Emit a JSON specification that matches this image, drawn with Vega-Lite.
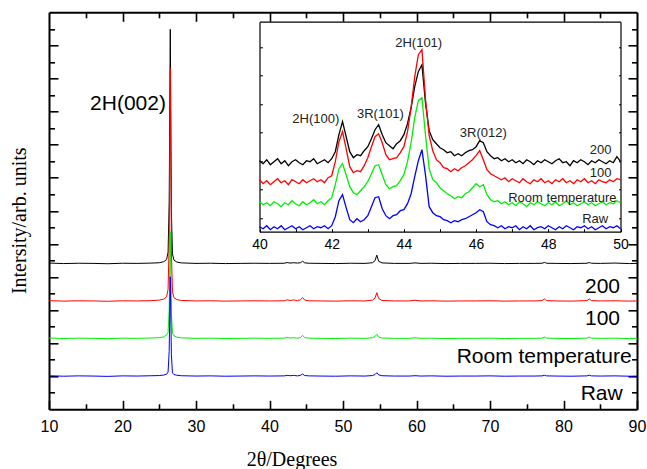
{
"$schema": "https://vega.github.io/schema/vega-lite/v6.json",
"width": 588, "height": 397,
"autosize": {"type": "none"},
"padding": {"left": 49, "top": 12.3, "right": 10, "bottom": 59.7},
"background": "white",
"config": {"view": {"stroke": null}, "axis": {"grid": false, "domainColor": "black", "tickColor": "black", "labelColor": "black", "labelFont": "Liberation Sans", "titleColor": "black", "titleFontWeight": "normal", "labelFlush": false, "labelOverlap": false}},
"datasets": {
"main": [
{"s":"200","x":10,"y":6.84},{"s":"200","x":12,"y":6.81},{"s":"200","x":14,"y":6.83},{"s":"200","x":16,"y":6.82},{"s":"200","x":18,"y":6.8},{"s":"200","x":20,"y":6.83},{"s":"200","x":22,"y":6.82},{"s":"200","x":24,"y":6.84},{"s":"200","x":25,"y":6.86},{"s":"200","x":25.6,"y":6.92},{"s":"200","x":26,"y":7.05},{"s":"200","x":26.2,"y":7.5},{"s":"200","x":26.35,"y":10.5},{"s":"200","x":26.5,"y":20.97},{"s":"200","x":26.65,"y":10.0},{"s":"200","x":26.8,"y":7.4},{"s":"200","x":27,"y":7.02},{"s":"200","x":27.4,"y":6.9},{"s":"200","x":28,"y":6.85},{"s":"200","x":30,"y":6.82},{"s":"200","x":32,"y":6.83},{"s":"200","x":34,"y":6.81},{"s":"200","x":36,"y":6.82},{"s":"200","x":38,"y":6.83},{"s":"200","x":40,"y":6.82},{"s":"200","x":42,"y":6.83},{"s":"200","x":42.4,"y":6.87},{"s":"200","x":42.8,"y":6.84},{"s":"200","x":43.3,"y":6.86},{"s":"200","x":43.8,"y":6.84},{"s":"200","x":44.2,"y":6.86},{"s":"200","x":44.5,"y":6.95},{"s":"200","x":44.8,"y":6.85},{"s":"200","x":45.4,"y":6.83},{"s":"200","x":47,"y":6.82},{"s":"200","x":49,"y":6.81},{"s":"200","x":51,"y":6.83},{"s":"200","x":53,"y":6.82},{"s":"200","x":54,"y":6.86},{"s":"200","x":54.35,"y":6.98},{"s":"200","x":54.6,"y":7.32},{"s":"200","x":54.85,"y":6.95},{"s":"200","x":55.3,"y":6.85},{"s":"200","x":57,"y":6.82},{"s":"200","x":59,"y":6.82},{"s":"200","x":59.8,"y":6.85},{"s":"200","x":60.6,"y":6.82},{"s":"200","x":62,"y":6.83},{"s":"200","x":64,"y":6.81},{"s":"200","x":66,"y":6.82},{"s":"200","x":68,"y":6.82},{"s":"200","x":70,"y":6.83},{"s":"200","x":72,"y":6.81},{"s":"200","x":74,"y":6.82},{"s":"200","x":76,"y":6.82},{"s":"200","x":77.1,"y":6.83},{"s":"200","x":77.4,"y":6.88},{"s":"200","x":77.7,"y":6.83},{"s":"200","x":79,"y":6.82},{"s":"200","x":81,"y":6.81},{"s":"200","x":83.2,"y":6.83},{"s":"200","x":83.5,"y":6.87},{"s":"200","x":83.8,"y":6.83},{"s":"200","x":85,"y":6.82},{"s":"200","x":87,"y":6.84},{"s":"200","x":89,"y":6.81},{"s":"200","x":90,"y":6.82},
{"s":"100","x":10,"y":4.57},{"s":"100","x":12,"y":4.54},{"s":"100","x":14,"y":4.56},{"s":"100","x":16,"y":4.55},{"s":"100","x":18,"y":4.53},{"s":"100","x":20,"y":4.56},{"s":"100","x":22,"y":4.55},{"s":"100","x":24,"y":4.57},{"s":"100","x":25,"y":4.6},{"s":"100","x":25.6,"y":4.66},{"s":"100","x":26,"y":4.8},{"s":"100","x":26.2,"y":5.25},{"s":"100","x":26.35,"y":8.0},{"s":"100","x":26.5,"y":18.61},{"s":"100","x":26.65,"y":7.6},{"s":"100","x":26.8,"y":5.1},{"s":"100","x":27,"y":4.75},{"s":"100","x":27.4,"y":4.63},{"s":"100","x":28,"y":4.58},{"s":"100","x":30,"y":4.55},{"s":"100","x":32,"y":4.56},{"s":"100","x":34,"y":4.54},{"s":"100","x":36,"y":4.55},{"s":"100","x":38,"y":4.56},{"s":"100","x":40,"y":4.55},{"s":"100","x":42,"y":4.56},{"s":"100","x":42.4,"y":4.62},{"s":"100","x":42.8,"y":4.58},{"s":"100","x":43.3,"y":4.61},{"s":"100","x":43.8,"y":4.57},{"s":"100","x":44.2,"y":4.62},{"s":"100","x":44.5,"y":4.75},{"s":"100","x":44.8,"y":4.6},{"s":"100","x":45.4,"y":4.56},{"s":"100","x":47,"y":4.55},{"s":"100","x":49,"y":4.54},{"s":"100","x":51,"y":4.56},{"s":"100","x":53,"y":4.55},{"s":"100","x":54,"y":4.6},{"s":"100","x":54.35,"y":4.72},{"s":"100","x":54.6,"y":5.05},{"s":"100","x":54.85,"y":4.7},{"s":"100","x":55.3,"y":4.58},{"s":"100","x":57,"y":4.55},{"s":"100","x":59,"y":4.55},{"s":"100","x":59.8,"y":4.59},{"s":"100","x":60.6,"y":4.55},{"s":"100","x":62,"y":4.56},{"s":"100","x":64,"y":4.54},{"s":"100","x":66,"y":4.55},{"s":"100","x":68,"y":4.55},{"s":"100","x":70,"y":4.56},{"s":"100","x":72,"y":4.54},{"s":"100","x":74,"y":4.55},{"s":"100","x":76,"y":4.55},{"s":"100","x":77.1,"y":4.57},{"s":"100","x":77.4,"y":4.67},{"s":"100","x":77.7,"y":4.57},{"s":"100","x":79,"y":4.55},{"s":"100","x":81,"y":4.54},{"s":"100","x":83.2,"y":4.57},{"s":"100","x":83.5,"y":4.67},{"s":"100","x":83.8,"y":4.57},{"s":"100","x":85,"y":4.55},{"s":"100","x":87,"y":4.56},{"s":"100","x":89,"y":4.54},{"s":"100","x":90,"y":4.55},
{"s":"RT","x":10,"y":2.31},{"s":"RT","x":12,"y":2.28},{"s":"RT","x":14,"y":2.3},{"s":"RT","x":16,"y":2.29},{"s":"RT","x":18,"y":2.27},{"s":"RT","x":20,"y":2.3},{"s":"RT","x":22,"y":2.29},{"s":"RT","x":24,"y":2.31},{"s":"RT","x":25,"y":2.33},{"s":"RT","x":25.6,"y":2.38},{"s":"RT","x":26,"y":2.5},{"s":"RT","x":26.2,"y":2.65},{"s":"RT","x":26.35,"y":4.0},{"s":"RT","x":26.5,"y":8.74},{"s":"RT","x":26.65,"y":3.8},{"s":"RT","x":26.8,"y":2.6},{"s":"RT","x":27,"y":2.45},{"s":"RT","x":27.4,"y":2.36},{"s":"RT","x":28,"y":2.32},{"s":"RT","x":30,"y":2.29},{"s":"RT","x":32,"y":2.3},{"s":"RT","x":34,"y":2.28},{"s":"RT","x":36,"y":2.29},{"s":"RT","x":38,"y":2.3},{"s":"RT","x":40,"y":2.29},{"s":"RT","x":42,"y":2.3},{"s":"RT","x":42.4,"y":2.34},{"s":"RT","x":42.8,"y":2.31},{"s":"RT","x":43.3,"y":2.33},{"s":"RT","x":43.8,"y":2.3},{"s":"RT","x":44.2,"y":2.34},{"s":"RT","x":44.5,"y":2.47},{"s":"RT","x":44.8,"y":2.33},{"s":"RT","x":45.4,"y":2.3},{"s":"RT","x":47,"y":2.29},{"s":"RT","x":49,"y":2.28},{"s":"RT","x":51,"y":2.3},{"s":"RT","x":53,"y":2.29},{"s":"RT","x":54,"y":2.32},{"s":"RT","x":54.35,"y":2.4},{"s":"RT","x":54.6,"y":2.53},{"s":"RT","x":54.85,"y":2.38},{"s":"RT","x":55.3,"y":2.31},{"s":"RT","x":57,"y":2.29},{"s":"RT","x":59,"y":2.29},{"s":"RT","x":59.8,"y":2.32},{"s":"RT","x":60.6,"y":2.29},{"s":"RT","x":62,"y":2.3},{"s":"RT","x":64,"y":2.28},{"s":"RT","x":66,"y":2.29},{"s":"RT","x":68,"y":2.29},{"s":"RT","x":70,"y":2.3},{"s":"RT","x":72,"y":2.28},{"s":"RT","x":74,"y":2.29},{"s":"RT","x":76,"y":2.29},{"s":"RT","x":77.1,"y":2.3},{"s":"RT","x":77.4,"y":2.37},{"s":"RT","x":77.7,"y":2.3},{"s":"RT","x":79,"y":2.29},{"s":"RT","x":81,"y":2.28},{"s":"RT","x":83.2,"y":2.3},{"s":"RT","x":83.5,"y":2.37},{"s":"RT","x":83.8,"y":2.3},{"s":"RT","x":85,"y":2.29},{"s":"RT","x":87,"y":2.3},{"s":"RT","x":89,"y":2.28},{"s":"RT","x":90,"y":2.29},
{"s":"Raw","x":10,"y":0.03},{"s":"Raw","x":12,"y":0.0},{"s":"Raw","x":14,"y":0.02},{"s":"Raw","x":16,"y":0.01},{"s":"Raw","x":18,"y":-0.01},{"s":"Raw","x":20,"y":0.02},{"s":"Raw","x":22,"y":0.01},{"s":"Raw","x":24,"y":0.03},{"s":"Raw","x":25,"y":0.04},{"s":"Raw","x":25.6,"y":0.07},{"s":"Raw","x":26,"y":0.12},{"s":"Raw","x":26.2,"y":0.25},{"s":"Raw","x":26.35,"y":1.5},{"s":"Raw","x":26.5,"y":6.01},{"s":"Raw","x":26.65,"y":1.3},{"s":"Raw","x":26.8,"y":0.2},{"s":"Raw","x":27,"y":0.1},{"s":"Raw","x":27.4,"y":0.06},{"s":"Raw","x":28,"y":0.03},{"s":"Raw","x":30,"y":0.01},{"s":"Raw","x":32,"y":0.02},{"s":"Raw","x":34,"y":0.0},{"s":"Raw","x":36,"y":0.01},{"s":"Raw","x":38,"y":0.02},{"s":"Raw","x":40,"y":0.01},{"s":"Raw","x":42,"y":0.02},{"s":"Raw","x":42.4,"y":0.05},{"s":"Raw","x":42.8,"y":0.03},{"s":"Raw","x":43.3,"y":0.05},{"s":"Raw","x":43.8,"y":0.02},{"s":"Raw","x":44.2,"y":0.05},{"s":"Raw","x":44.5,"y":0.13},{"s":"Raw","x":44.8,"y":0.04},{"s":"Raw","x":45.4,"y":0.02},{"s":"Raw","x":47,"y":0.01},{"s":"Raw","x":49,"y":0.0},{"s":"Raw","x":51,"y":0.02},{"s":"Raw","x":53,"y":0.01},{"s":"Raw","x":54,"y":0.04},{"s":"Raw","x":54.35,"y":0.1},{"s":"Raw","x":54.6,"y":0.21},{"s":"Raw","x":54.85,"y":0.08},{"s":"Raw","x":55.3,"y":0.03},{"s":"Raw","x":57,"y":0.01},{"s":"Raw","x":59,"y":0.01},{"s":"Raw","x":59.8,"y":0.03},{"s":"Raw","x":60.6,"y":0.01},{"s":"Raw","x":62,"y":0.02},{"s":"Raw","x":64,"y":0.0},{"s":"Raw","x":66,"y":0.01},{"s":"Raw","x":68,"y":0.01},{"s":"Raw","x":70,"y":0.02},{"s":"Raw","x":72,"y":0.0},{"s":"Raw","x":74,"y":0.01},{"s":"Raw","x":76,"y":0.01},{"s":"Raw","x":77.1,"y":0.02},{"s":"Raw","x":77.4,"y":0.06},{"s":"Raw","x":77.7,"y":0.02},{"s":"Raw","x":79,"y":0.01},{"s":"Raw","x":81,"y":0.0},{"s":"Raw","x":83.2,"y":0.02},{"s":"Raw","x":83.5,"y":0.06},{"s":"Raw","x":83.8,"y":0.02},{"s":"Raw","x":85,"y":0.01},{"s":"Raw","x":87,"y":0.02},{"s":"Raw","x":89,"y":0.0},{"s":"Raw","x":90,"y":0.01}
],
"inset": [
{"s":"200","x":40.0,"y":71},{"s":"200","x":40.1,"y":68},{"s":"200","x":40.2,"y":72},{"s":"200","x":40.3,"y":67},{"s":"200","x":40.4,"y":70},{"s":"200","x":40.5,"y":73},{"s":"200","x":40.6,"y":68},{"s":"200","x":40.7,"y":71},{"s":"200","x":40.8,"y":66},{"s":"200","x":40.9,"y":70},{"s":"200","x":41.0,"y":72},{"s":"200","x":41.1,"y":69},{"s":"200","x":41.2,"y":67},{"s":"200","x":41.3,"y":71},{"s":"200","x":41.4,"y":70},{"s":"200","x":41.5,"y":73},{"s":"200","x":41.6,"y":68},{"s":"200","x":41.7,"y":70},{"s":"200","x":41.8,"y":72},{"s":"200","x":41.9,"y":69},{"s":"200","x":42.0,"y":73},{"s":"200","x":42.1,"y":80},{"s":"200","x":42.2,"y":97},{"s":"200","x":42.3,"y":110},{"s":"200","x":42.4,"y":95},{"s":"200","x":42.5,"y":80},{"s":"200","x":42.6,"y":74},{"s":"200","x":42.7,"y":77},{"s":"200","x":42.8,"y":76},{"s":"200","x":42.9,"y":81},{"s":"200","x":43.0,"y":85},{"s":"200","x":43.1,"y":93},{"s":"200","x":43.2,"y":102},{"s":"200","x":43.3,"y":107},{"s":"200","x":43.4,"y":97},{"s":"200","x":43.5,"y":89},{"s":"200","x":43.6,"y":86},{"s":"200","x":43.7,"y":83},{"s":"200","x":43.8,"y":88},{"s":"200","x":43.9,"y":91},{"s":"200","x":44.0,"y":97},{"s":"200","x":44.1,"y":108},{"s":"200","x":44.2,"y":124},{"s":"200","x":44.3,"y":145},{"s":"200","x":44.4,"y":160},{"s":"200","x":44.5,"y":167},{"s":"200","x":44.6,"y":128},{"s":"200","x":44.7,"y":101},{"s":"200","x":44.8,"y":92},{"s":"200","x":44.9,"y":88},{"s":"200","x":45.0,"y":84},{"s":"200","x":45.1,"y":82},{"s":"200","x":45.2,"y":79},{"s":"200","x":45.3,"y":80},{"s":"200","x":45.4,"y":76},{"s":"200","x":45.5,"y":78},{"s":"200","x":45.6,"y":76},{"s":"200","x":45.7,"y":79},{"s":"200","x":45.8,"y":81},{"s":"200","x":45.9,"y":82},{"s":"200","x":46.0,"y":85},{"s":"200","x":46.1,"y":91},{"s":"200","x":46.2,"y":89},{"s":"200","x":46.3,"y":80},{"s":"200","x":46.4,"y":76},{"s":"200","x":46.5,"y":73},{"s":"200","x":46.6,"y":74},{"s":"200","x":46.7,"y":71},{"s":"200","x":46.8,"y":73},{"s":"200","x":46.9,"y":70},{"s":"200","x":47.0,"y":72},{"s":"200","x":47.1,"y":69},{"s":"200","x":47.2,"y":71},{"s":"200","x":47.3,"y":68},{"s":"200","x":47.4,"y":72},{"s":"200","x":47.5,"y":70},{"s":"200","x":47.6,"y":67},{"s":"200","x":47.7,"y":71},{"s":"200","x":47.8,"y":69},{"s":"200","x":47.9,"y":72},{"s":"200","x":48.0,"y":70},{"s":"200","x":48.1,"y":68},{"s":"200","x":48.2,"y":71},{"s":"200","x":48.3,"y":73},{"s":"200","x":48.4,"y":69},{"s":"200","x":48.5,"y":70},{"s":"200","x":48.6,"y":66},{"s":"200","x":48.7,"y":71},{"s":"200","x":48.8,"y":69},{"s":"200","x":48.9,"y":72},{"s":"200","x":49.0,"y":70},{"s":"200","x":49.1,"y":67},{"s":"200","x":49.2,"y":71},{"s":"200","x":49.3,"y":69},{"s":"200","x":49.4,"y":72},{"s":"200","x":49.5,"y":70},{"s":"200","x":49.6,"y":68},{"s":"200","x":49.7,"y":71},{"s":"200","x":49.8,"y":69},{"s":"200","x":49.9,"y":75},{"s":"200","x":50.0,"y":70},
{"s":"100","x":40.0,"y":52},{"s":"100","x":40.1,"y":48},{"s":"100","x":40.2,"y":51},{"s":"100","x":40.3,"y":47},{"s":"100","x":40.4,"y":50},{"s":"100","x":40.5,"y":53},{"s":"100","x":40.6,"y":49},{"s":"100","x":40.7,"y":51},{"s":"100","x":40.8,"y":47},{"s":"100","x":40.9,"y":52},{"s":"100","x":41.0,"y":50},{"s":"100","x":41.1,"y":48},{"s":"100","x":41.2,"y":52},{"s":"100","x":41.3,"y":49},{"s":"100","x":41.4,"y":51},{"s":"100","x":41.5,"y":53},{"s":"100","x":41.6,"y":50},{"s":"100","x":41.7,"y":52},{"s":"100","x":41.8,"y":49},{"s":"100","x":41.9,"y":54},{"s":"100","x":42.0,"y":56},{"s":"100","x":42.1,"y":70},{"s":"100","x":42.2,"y":90},{"s":"100","x":42.3,"y":100},{"s":"100","x":42.4,"y":83},{"s":"100","x":42.5,"y":65},{"s":"100","x":42.6,"y":59},{"s":"100","x":42.7,"y":61},{"s":"100","x":42.8,"y":60},{"s":"100","x":42.9,"y":66},{"s":"100","x":43.0,"y":74},{"s":"100","x":43.1,"y":85},{"s":"100","x":43.2,"y":95},{"s":"100","x":43.3,"y":98},{"s":"100","x":43.4,"y":89},{"s":"100","x":43.5,"y":77},{"s":"100","x":43.6,"y":72},{"s":"100","x":43.7,"y":73},{"s":"100","x":43.8,"y":74},{"s":"100","x":43.9,"y":79},{"s":"100","x":44.0,"y":85},{"s":"100","x":44.1,"y":100},{"s":"100","x":44.2,"y":124},{"s":"100","x":44.3,"y":155},{"s":"100","x":44.4,"y":177},{"s":"100","x":44.5,"y":182},{"s":"100","x":44.6,"y":132},{"s":"100","x":44.7,"y":96},{"s":"100","x":44.8,"y":81},{"s":"100","x":44.9,"y":72},{"s":"100","x":45.0,"y":69},{"s":"100","x":45.1,"y":64},{"s":"100","x":45.2,"y":63},{"s":"100","x":45.3,"y":60},{"s":"100","x":45.4,"y":63},{"s":"100","x":45.5,"y":61},{"s":"100","x":45.6,"y":64},{"s":"100","x":45.7,"y":66},{"s":"100","x":45.8,"y":69},{"s":"100","x":45.9,"y":72},{"s":"100","x":46.0,"y":76},{"s":"100","x":46.1,"y":81},{"s":"100","x":46.2,"y":72},{"s":"100","x":46.3,"y":62},{"s":"100","x":46.4,"y":58},{"s":"100","x":46.5,"y":56},{"s":"100","x":46.6,"y":54},{"s":"100","x":46.7,"y":52},{"s":"100","x":46.8,"y":54},{"s":"100","x":46.9,"y":50},{"s":"100","x":47.0,"y":53},{"s":"100","x":47.1,"y":51},{"s":"100","x":47.2,"y":49},{"s":"100","x":47.3,"y":53},{"s":"100","x":47.4,"y":50},{"s":"100","x":47.5,"y":48},{"s":"100","x":47.6,"y":52},{"s":"100","x":47.7,"y":50},{"s":"100","x":47.8,"y":53},{"s":"100","x":47.9,"y":49},{"s":"100","x":48.0,"y":51},{"s":"100","x":48.1,"y":48},{"s":"100","x":48.2,"y":52},{"s":"100","x":48.3,"y":50},{"s":"100","x":48.4,"y":53},{"s":"100","x":48.5,"y":49},{"s":"100","x":48.6,"y":51},{"s":"100","x":48.7,"y":48},{"s":"100","x":48.8,"y":52},{"s":"100","x":48.9,"y":50},{"s":"100","x":49.0,"y":53},{"s":"100","x":49.1,"y":49},{"s":"100","x":49.2,"y":51},{"s":"100","x":49.3,"y":48},{"s":"100","x":49.4,"y":52},{"s":"100","x":49.5,"y":50},{"s":"100","x":49.6,"y":49},{"s":"100","x":49.7,"y":52},{"s":"100","x":49.8,"y":50},{"s":"100","x":49.9,"y":53},{"s":"100","x":50.0,"y":52},
{"s":"RT","x":40.0,"y":30},{"s":"RT","x":40.1,"y":27},{"s":"RT","x":40.2,"y":29},{"s":"RT","x":40.3,"y":26},{"s":"RT","x":40.4,"y":30},{"s":"RT","x":40.5,"y":28},{"s":"RT","x":40.6,"y":25},{"s":"RT","x":40.7,"y":29},{"s":"RT","x":40.8,"y":27},{"s":"RT","x":40.9,"y":31},{"s":"RT","x":41.0,"y":28},{"s":"RT","x":41.1,"y":26},{"s":"RT","x":41.2,"y":30},{"s":"RT","x":41.3,"y":27},{"s":"RT","x":41.4,"y":29},{"s":"RT","x":41.5,"y":32},{"s":"RT","x":41.6,"y":28},{"s":"RT","x":41.7,"y":30},{"s":"RT","x":41.8,"y":27},{"s":"RT","x":41.9,"y":31},{"s":"RT","x":42.0,"y":34},{"s":"RT","x":42.1,"y":47},{"s":"RT","x":42.2,"y":63},{"s":"RT","x":42.3,"y":68},{"s":"RT","x":42.4,"y":57},{"s":"RT","x":42.5,"y":45},{"s":"RT","x":42.6,"y":39},{"s":"RT","x":42.7,"y":37},{"s":"RT","x":42.8,"y":41},{"s":"RT","x":42.9,"y":45},{"s":"RT","x":43.0,"y":50},{"s":"RT","x":43.1,"y":58},{"s":"RT","x":43.2,"y":66},{"s":"RT","x":43.3,"y":67},{"s":"RT","x":43.4,"y":57},{"s":"RT","x":43.5,"y":47},{"s":"RT","x":43.6,"y":43},{"s":"RT","x":43.7,"y":45},{"s":"RT","x":43.8,"y":46},{"s":"RT","x":43.9,"y":51},{"s":"RT","x":44.0,"y":57},{"s":"RT","x":44.1,"y":70},{"s":"RT","x":44.2,"y":89},{"s":"RT","x":44.3,"y":114},{"s":"RT","x":44.4,"y":131},{"s":"RT","x":44.5,"y":134},{"s":"RT","x":44.6,"y":96},{"s":"RT","x":44.7,"y":63},{"s":"RT","x":44.8,"y":52},{"s":"RT","x":44.9,"y":49},{"s":"RT","x":45.0,"y":44},{"s":"RT","x":45.1,"y":41},{"s":"RT","x":45.2,"y":38},{"s":"RT","x":45.3,"y":36},{"s":"RT","x":45.4,"y":33},{"s":"RT","x":45.5,"y":35},{"s":"RT","x":45.6,"y":34},{"s":"RT","x":45.7,"y":38},{"s":"RT","x":45.8,"y":40},{"s":"RT","x":45.9,"y":44},{"s":"RT","x":46.0,"y":48},{"s":"RT","x":46.1,"y":45},{"s":"RT","x":46.2,"y":47},{"s":"RT","x":46.3,"y":37},{"s":"RT","x":46.4,"y":32},{"s":"RT","x":46.5,"y":30},{"s":"RT","x":46.6,"y":31},{"s":"RT","x":46.7,"y":28},{"s":"RT","x":46.8,"y":30},{"s":"RT","x":46.9,"y":27},{"s":"RT","x":47.0,"y":29},{"s":"RT","x":47.1,"y":26},{"s":"RT","x":47.2,"y":30},{"s":"RT","x":47.3,"y":28},{"s":"RT","x":47.4,"y":25},{"s":"RT","x":47.5,"y":29},{"s":"RT","x":47.6,"y":27},{"s":"RT","x":47.7,"y":30},{"s":"RT","x":47.8,"y":28},{"s":"RT","x":47.9,"y":26},{"s":"RT","x":48.0,"y":29},{"s":"RT","x":48.1,"y":27},{"s":"RT","x":48.2,"y":30},{"s":"RT","x":48.3,"y":26},{"s":"RT","x":48.4,"y":28},{"s":"RT","x":48.5,"y":31},{"s":"RT","x":48.6,"y":27},{"s":"RT","x":48.7,"y":29},{"s":"RT","x":48.8,"y":26},{"s":"RT","x":48.9,"y":28},{"s":"RT","x":49.0,"y":30},{"s":"RT","x":49.1,"y":27},{"s":"RT","x":49.2,"y":29},{"s":"RT","x":49.3,"y":26},{"s":"RT","x":49.4,"y":28},{"s":"RT","x":49.5,"y":30},{"s":"RT","x":49.6,"y":27},{"s":"RT","x":49.7,"y":29},{"s":"RT","x":49.8,"y":28},{"s":"RT","x":49.9,"y":31},{"s":"RT","x":50.0,"y":29},
{"s":"Raw","x":40.0,"y":5},{"s":"Raw","x":40.1,"y":3},{"s":"Raw","x":40.2,"y":6},{"s":"Raw","x":40.3,"y":2},{"s":"Raw","x":40.4,"y":5},{"s":"Raw","x":40.5,"y":3},{"s":"Raw","x":40.6,"y":6},{"s":"Raw","x":40.7,"y":2},{"s":"Raw","x":40.8,"y":4},{"s":"Raw","x":40.9,"y":6},{"s":"Raw","x":41.0,"y":3},{"s":"Raw","x":41.1,"y":5},{"s":"Raw","x":41.2,"y":2},{"s":"Raw","x":41.3,"y":4},{"s":"Raw","x":41.4,"y":6},{"s":"Raw","x":41.5,"y":3},{"s":"Raw","x":41.6,"y":5},{"s":"Raw","x":41.7,"y":4},{"s":"Raw","x":41.8,"y":6},{"s":"Raw","x":41.9,"y":3},{"s":"Raw","x":42.0,"y":6},{"s":"Raw","x":42.1,"y":15},{"s":"Raw","x":42.2,"y":31},{"s":"Raw","x":42.3,"y":37},{"s":"Raw","x":42.4,"y":24},{"s":"Raw","x":42.5,"y":12},{"s":"Raw","x":42.6,"y":9},{"s":"Raw","x":42.7,"y":13},{"s":"Raw","x":42.8,"y":10},{"s":"Raw","x":42.9,"y":12},{"s":"Raw","x":43.0,"y":16},{"s":"Raw","x":43.1,"y":25},{"s":"Raw","x":43.2,"y":34},{"s":"Raw","x":43.3,"y":35},{"s":"Raw","x":43.4,"y":23},{"s":"Raw","x":43.5,"y":16},{"s":"Raw","x":43.6,"y":13},{"s":"Raw","x":43.7,"y":16},{"s":"Raw","x":43.8,"y":17},{"s":"Raw","x":43.9,"y":21},{"s":"Raw","x":44.0,"y":22},{"s":"Raw","x":44.1,"y":28},{"s":"Raw","x":44.2,"y":38},{"s":"Raw","x":44.3,"y":55},{"s":"Raw","x":44.4,"y":71},{"s":"Raw","x":44.5,"y":82},{"s":"Raw","x":44.6,"y":56},{"s":"Raw","x":44.7,"y":25},{"s":"Raw","x":44.8,"y":19},{"s":"Raw","x":44.9,"y":16},{"s":"Raw","x":45.0,"y":15},{"s":"Raw","x":45.1,"y":12},{"s":"Raw","x":45.2,"y":11},{"s":"Raw","x":45.3,"y":9},{"s":"Raw","x":45.4,"y":11},{"s":"Raw","x":45.5,"y":10},{"s":"Raw","x":45.6,"y":12},{"s":"Raw","x":45.7,"y":13},{"s":"Raw","x":45.8,"y":15},{"s":"Raw","x":45.9,"y":17},{"s":"Raw","x":46.0,"y":19},{"s":"Raw","x":46.1,"y":22},{"s":"Raw","x":46.2,"y":20},{"s":"Raw","x":46.3,"y":10},{"s":"Raw","x":46.4,"y":7},{"s":"Raw","x":46.5,"y":6},{"s":"Raw","x":46.6,"y":4},{"s":"Raw","x":46.7,"y":6},{"s":"Raw","x":46.8,"y":3},{"s":"Raw","x":46.9,"y":5},{"s":"Raw","x":47.0,"y":4},{"s":"Raw","x":47.1,"y":6},{"s":"Raw","x":47.2,"y":2},{"s":"Raw","x":47.3,"y":5},{"s":"Raw","x":47.4,"y":3},{"s":"Raw","x":47.5,"y":6},{"s":"Raw","x":47.6,"y":2},{"s":"Raw","x":47.7,"y":4},{"s":"Raw","x":47.8,"y":5},{"s":"Raw","x":47.9,"y":3},{"s":"Raw","x":48.0,"y":6},{"s":"Raw","x":48.1,"y":4},{"s":"Raw","x":48.2,"y":2},{"s":"Raw","x":48.3,"y":5},{"s":"Raw","x":48.4,"y":3},{"s":"Raw","x":48.5,"y":6},{"s":"Raw","x":48.6,"y":4},{"s":"Raw","x":48.7,"y":2},{"s":"Raw","x":48.8,"y":5},{"s":"Raw","x":48.9,"y":4},{"s":"Raw","x":49.0,"y":6},{"s":"Raw","x":49.1,"y":3},{"s":"Raw","x":49.2,"y":5},{"s":"Raw","x":49.3,"y":2},{"s":"Raw","x":49.4,"y":4},{"s":"Raw","x":49.5,"y":6},{"s":"Raw","x":49.6,"y":3},{"s":"Raw","x":49.7,"y":5},{"s":"Raw","x":49.8,"y":4},{"s":"Raw","x":49.9,"y":6},{"s":"Raw","x":50.0,"y":3}
],
"mainLab": [
{"t":"2H(002)","x":20.75,"y":16.09,"g":"a"},
{"t":"200","x":87.69,"y":5.01,"g":"b"},
{"t":"100","x":87.69,"y":3.09,"g":"b"},
{"t":"Room temperature","x":89.28,"y":0.78,"g":"c"},
{"t":"Raw","x":88.05,"y":-1.44,"g":"c"}
],
"insetLab": [
{"t":"2H(100)","x":41.56,"y":108.4,"g":"p"},
{"t":"3R(101)","x":43.35,"y":113.4,"g":"p"},
{"t":"2H(101)","x":44.41,"y":184.4,"g":"p"},
{"t":"3R(012)","x":46.2,"y":95,"g":"p"},
{"t":"200","x":49.75,"y":77.7,"g":"s"},
{"t":"100","x":49.75,"y":55,"g":"s"},
{"t":"Room temperature","x":49.89,"y":30,"g":"s"},
{"t":"Raw","x":49.66,"y":8.4,"g":"s"}
]
},
"layer": [
{
"layer": [
{
"data": {"name": "main"},
"mark": {"type": "line", "strokeWidth": 1},
"encoding": {
"x": {"field": "x", "type": "quantitative", "scale": {"domain": [10, 90], "nice": false, "zero": false},
"axis": {"orient": "bottom", "values": [10,20,30,40,50,60,70,80,90], "tickSize": -9, "tickWidth": 1.6, "domainWidth": 2, "labelFontSize": 16, "labelPadding": 18, "title": "2θ/Degrees", "titleFont": "Liberation Serif", "titleFontSize": 20, "titleX": 242.5, "titleY": 55.7, "titleAlign": "center", "titleBaseline": "alphabetic"}},
"y": {"field": "y", "type": "quantitative", "scale": {"domain": [-2, 22], "nice": false, "zero": false},
"axis": {"orient": "left", "values": [0,2,4,6,8,10,12,14,16,18,20], "tickSize": -9, "tickWidth": 1.6, "domainWidth": 2, "labels": false, "title": "Intersity/arb. units", "titleFont": "Liberation Serif", "titleFontSize": 20, "titleAngle": -90, "titleX": -23.5, "titleY": 208, "titleAlign": "center", "titleBaseline": "alphabetic"}},
"color": {"field": "s", "type": "nominal", "scale": {"domain": ["200","100","RT","Raw"], "range": ["#000000","#ff0000","#00ee00","#0000ff"]}, "legend": null}
}
},
{
"data": {"name": "mainLab"},
"transform": [{"filter": "datum.g === 'a'"}],
"mark": {"type": "text", "font": "Liberation Sans", "fontSize": 21, "align": "center", "baseline": "alphabetic", "color": "black"},
"encoding": {
"x": {"field": "x", "type": "quantitative", "scale": {"domain": [10, 90], "nice": false, "zero": false},
"axis": {"orient": "top", "values": [20,30,40,50,60,70,80], "tickSize": -9, "tickWidth": 1.6, "domainWidth": 2, "labels": false, "title": null}},
"y": {"field": "y", "type": "quantitative", "scale": {"domain": [-2, 22], "nice": false, "zero": false},
"axis": {"orient": "right", "values": [0,2,4,6,8,10,12,14,16,18,20], "tickSize": -9, "tickWidth": 1.6, "domainWidth": 2, "labels": false, "title": null}},
"text": {"field": "t"}
}
},
{
"data": {"name": "mainLab"},
"transform": [{"filter": "datum.g === 'b'"}],
"mark": {"type": "text", "font": "Liberation Sans", "fontSize": 21, "align": "right", "baseline": "alphabetic", "color": "black"},
"encoding": {
"x": {"field": "x", "type": "quantitative", "scale": {"domain": [10, 90], "nice": false, "zero": false},
"axis": {"orient": "bottom", "values": [15,25,35,45,55,65,75,85], "tickSize": -5.5, "tickWidth": 1.6, "domain": false, "labels": false, "title": null}},
"y": {"field": "y", "type": "quantitative", "scale": {"domain": [-2, 22], "nice": false, "zero": false},
"axis": {"orient": "left", "values": [-1,1,3,5,7,9,11,13,15,17,19,21], "tickSize": -5.5, "tickWidth": 1.6, "domain": false, "labels": false, "title": null}},
"text": {"field": "t"}
}
},
{
"data": {"name": "mainLab"},
"transform": [{"filter": "datum.g === 'c'"}],
"mark": {"type": "text", "font": "Liberation Sans", "fontSize": 21, "align": "right", "baseline": "alphabetic", "color": "black"},
"encoding": {
"x": {"field": "x", "type": "quantitative", "scale": {"domain": [10, 90], "nice": false, "zero": false},
"axis": {"orient": "top", "values": [15,25,35,45,55,65,75,85], "tickSize": -5.5, "tickWidth": 1.6, "domain": false, "labels": false, "title": null}},
"y": {"field": "y", "type": "quantitative", "scale": {"domain": [-2, 22], "nice": false, "zero": false},
"axis": {"orient": "right", "values": [-1,1,3,5,7,9,11,13,15,17,19,21], "tickSize": -5.5, "tickWidth": 1.6, "domain": false, "labels": false, "title": null}},
"text": {"field": "t"}
}
}
],
"resolve": {"axis": {"x": "independent", "y": "independent"}}
},
{
"layer": [
{
"data": {"name": "inset"},
"mark": {"type": "line", "strokeWidth": 1.3},
"encoding": {
"x": {"field": "x", "type": "quantitative", "scale": {"domain": [40, 50], "range": [210.5, 571.5], "nice": false, "zero": false},
"axis": {"orient": "bottom", "offset": -177.6, "values": [40,41,42,43,44,45,46,47,48,49,50], "tickSize": -3, "tickWidth": 1, "domainWidth": 1.2, "labelFontSize": 14, "labelPadding": 8.6, "labelExpr": "datum.value % 2 === 0 ? datum.label : ''", "title": null}},
"y": {"field": "y", "type": "quantitative", "scale": {"domain": [0, 210], "range": [219.4, 9.4], "nice": false, "zero": false},
"axis": {"orient": "left", "offset": -210.5, "values": [13.5,42,70.5,99,127.5,156,184.5], "tickSize": -3, "tickWidth": 1, "domainWidth": 1.2, "labels": false, "title": null}},
"color": {"field": "s", "type": "nominal", "scale": {"domain": ["200","100","RT","Raw"], "range": ["#000000","#ff0000","#00ee00","#0000ff"]}, "legend": null}
}
},
{
"data": {"name": "insetLab"},
"transform": [{"filter": "datum.g === 'p'"}],
"mark": {"type": "text", "font": "Liberation Sans", "fontSize": 13, "align": "center", "baseline": "alphabetic", "color": "#222222"},
"encoding": {
"x": {"field": "x", "type": "quantitative", "scale": {"domain": [40, 50], "range": [210.5, 571.5], "nice": false, "zero": false},
"axis": {"orient": "top", "offset": -9.4, "ticks": false, "labels": false, "domainWidth": 1.2, "title": null}},
"y": {"field": "y", "type": "quantitative", "scale": {"domain": [0, 210], "range": [219.4, 9.4], "nice": false, "zero": false},
"axis": {"orient": "right", "offset": -16.5, "values": [13.5,42,70.5,99,127.5,156,184.5], "tickSize": -2, "tickWidth": 1, "domainWidth": 1.2, "labels": false, "title": null}},
"text": {"field": "t"}
}
},
{
"data": {"name": "insetLab"},
"transform": [{"filter": "datum.g === 's'"}],
"mark": {"type": "text", "font": "Liberation Sans", "fontSize": 13, "align": "right", "baseline": "alphabetic", "color": "#222222"},
"encoding": {
"x": {"field": "x", "type": "quantitative", "scale": {"domain": [40, 50], "range": [210.5, 571.5], "nice": false, "zero": false}, "axis": null},
"y": {"field": "y", "type": "quantitative", "scale": {"domain": [0, 210], "range": [219.4, 9.4], "nice": false, "zero": false}, "axis": null},
"text": {"field": "t"}
}
}
],
"resolve": {"axis": {"x": "independent", "y": "independent"}}
}
],
"resolve": {"scale": {"x": "independent", "y": "independent"}, "axis": {"x": "independent", "y": "independent"}}
}
